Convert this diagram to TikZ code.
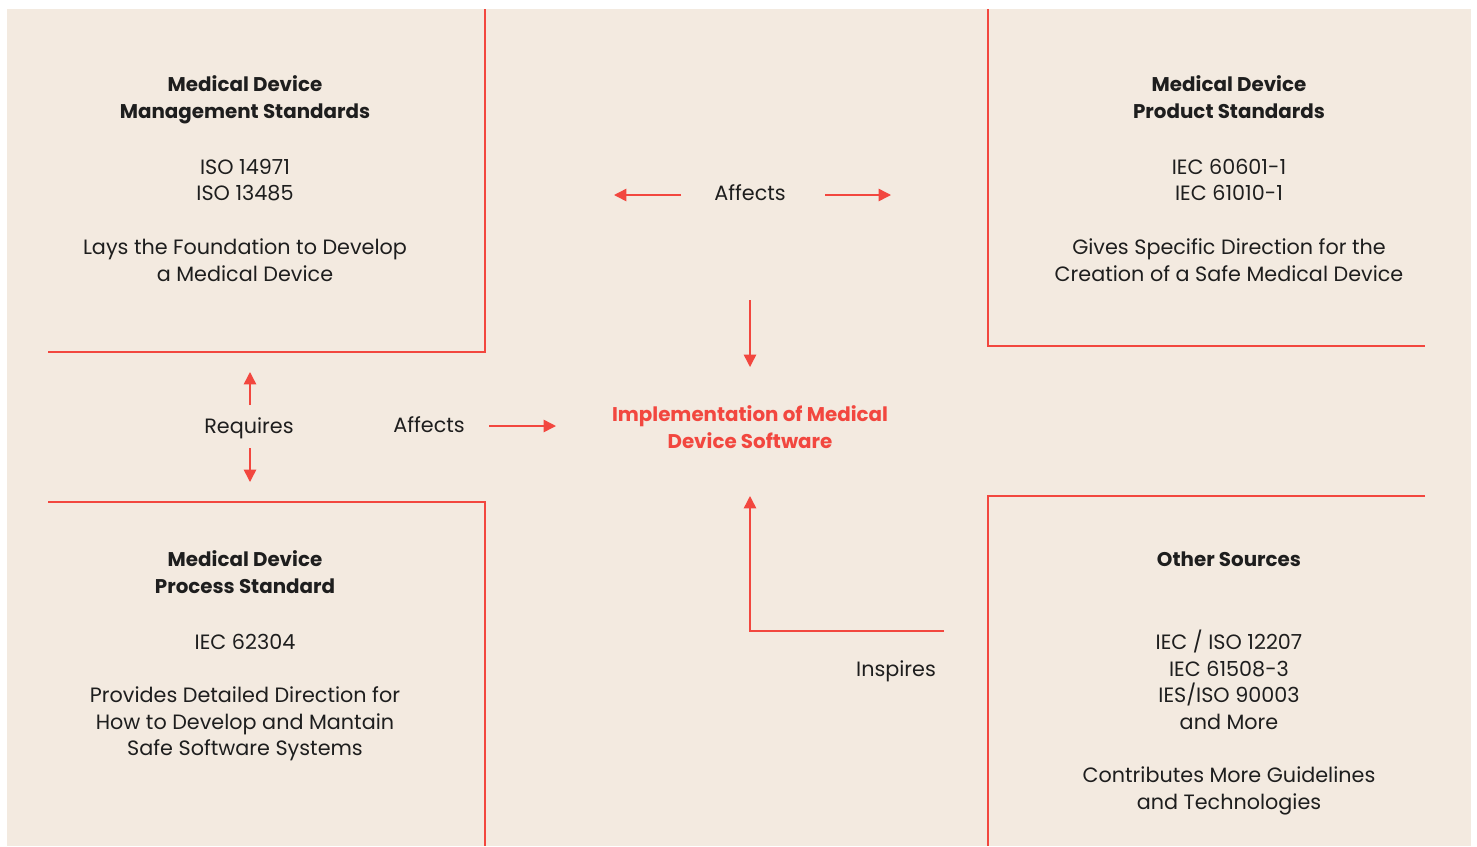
\documentclass[tikz,border=0pt]{standalone}
\usepackage{fontspec}
\setmainfont{Poppins}
\usetikzlibrary{arrows.meta}
\definecolor{paper}{HTML}{F3EAE0}
\definecolor{accent}{HTML}{F2473F}
\definecolor{ink}{HTML}{1E1E1E}
\tikzset{panel/.style={draw=accent,line width=1.4pt},
txt/.style={text=ink,align=center,inner sep=0pt,font=\fontsize{11.8}{15.1}\selectfont},
head/.style={txt,font=\fontsize{11.3}{15.1}\selectfont\bfseries},
link/.style={draw=accent,line width=0.85pt,-{Triangle[length=7pt,width=7pt]}}}

\begin{document}
\begin{tikzpicture}[x=0.02cm,y=-0.02cm]
\useasboundingbox (0,0) rectangle (1477,846);
\fill[paper] (7,9) rectangle (1471,846);
% panels
\draw[panel] (485,9) -- (485,352) -- (48,352);
\draw[panel] (988,9) -- (988,346) -- (1425,346);
\draw[panel] (48,502) -- (485,502) -- (485,846);
\draw[panel] (1425,496) -- (988,496) -- (988,846);
% top left
\node[head] (mt) at (245,100) {Medical Device\\Management Standards};
\node[txt] (ms) at (245,180) {ISO 14971\\ISO 13485};
\node[txt] (mn) at (245,260) {Lays the Foundation to Develop\\a Medical Device};
% top right
\node[head] (pt) at (1229,97) {Medical Device\\Product Standards};
\node[txt] (ps) at (1229,180) {IEC 60601-1\\IEC 61010-1};
\node[txt] (pn) at (1229,260) {Gives Specific Direction for the\\Creation of a Safe Medical Device};
% bottom left
\node[head] (rt) at (245,572) {Medical Device\\Process Standard};
\node[txt] (rs) at (245,642) {IEC 62304};
\node[txt] (rn) at (245,724) {Provides Detailed Direction for\\How to Develop and Mantain\\Safe Software Systems};
% bottom right
\node[head] (ot) at (1229,559) {Other Sources};
\node[txt] (os) at (1229,680) {IEC / ISO 12207\\IEC 61508-3\\IES/ISO 90003\\and More};
\node[txt] (on) at (1229,791) {Contributes More Guidelines\\and Technologies};
% centre
\node[head,text=accent] (sw) at (750,427) {Implementation of Medical\\Device Software};
\node[txt] (aff1) at (750,193) {Affects};
\node[txt] (req) at (249,428) {Requires};
\node[txt] (aff2) at (429,425) {Affects};
\node[txt] (insp) at (896,671) {Inspires};
% arrows
\coordinate (a1) at (681,195); \coordinate (b1) at (614,195);
\coordinate (a2) at (825,195); \coordinate (b2) at (891,195);
\coordinate (a3) at (750,300); \coordinate (b3) at (750,367);
\coordinate (a4) at (250,405); \coordinate (b4) at (250,372);
\coordinate (a5) at (250,448); \coordinate (b5) at (250,482);
\coordinate (a6) at (489,426); \coordinate (b6) at (556,426);
\coordinate (a7) at (944,631); \coordinate (b7) at (750,496);
\draw[link] (a1) -- (b1);
\draw[link] (a2) -- (b2);
\draw[link] (a3) -- (b3);
\draw[link] (a4) -- (b4);
\draw[link] (a5) -- (b5);
\draw[link] (a6) -- (b6);
\draw[link] (a7) -| (b7);
\end{tikzpicture}
\end{document}
